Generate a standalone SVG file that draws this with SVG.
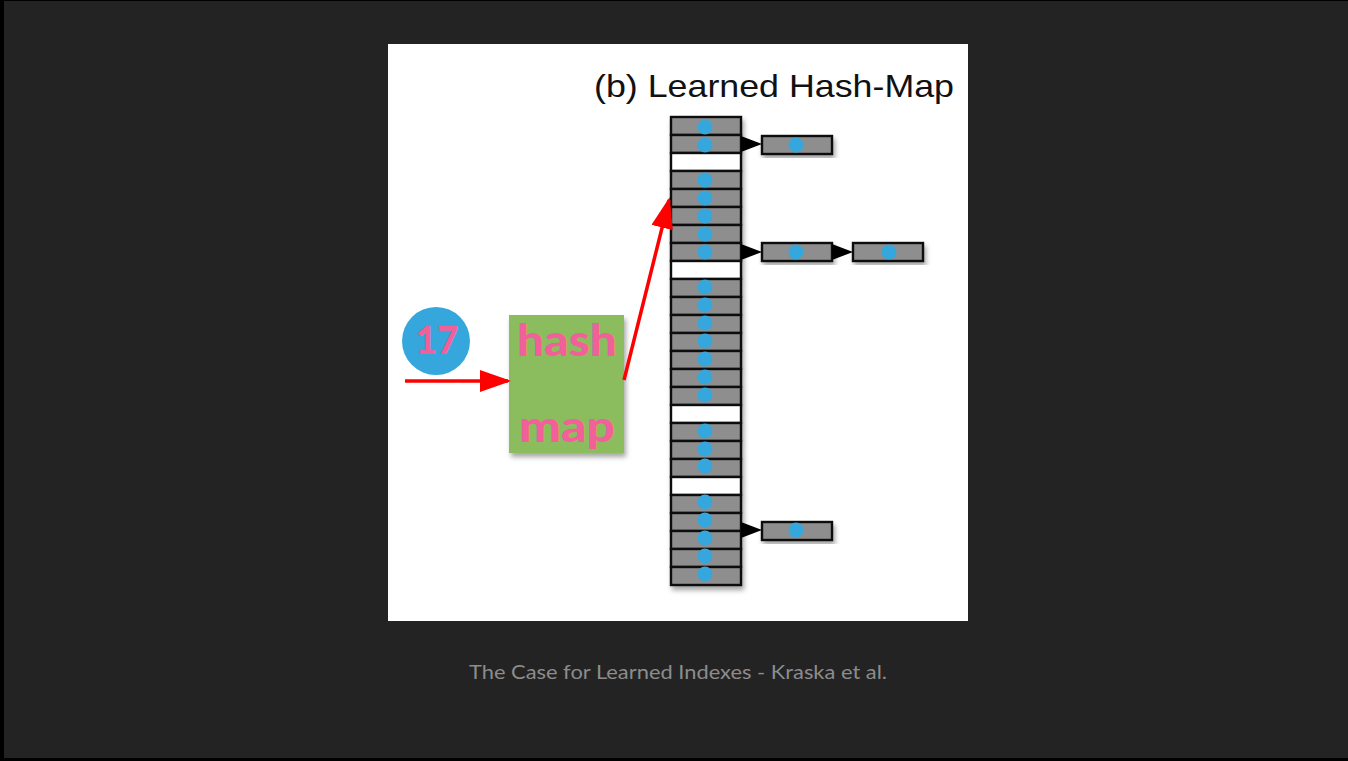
<svg xmlns="http://www.w3.org/2000/svg" width="1348" height="761" viewBox="0 0 1348 761">
  <style>
    .cell { fill: #8e8e8e; stroke: #0d0d0d; stroke-width: 2.4; }
    .empty { fill: #ffffff; stroke: #0d0d0d; stroke-width: 2.4; }
    .dot { fill: #35a7dc; }
    .ptr { fill: #000; }
    .red { stroke: #ff0000; stroke-width: 3.5; fill: none; }
    .title { font-family: "Liberation Sans", Arial, sans-serif; font-size: 32px; fill: #111; }
    .big { font-family: Lato, "Open Sans", sans-serif; font-weight: 900; fill: #f2609a; }
    .caption { font-family: Lato, "Open Sans", sans-serif; font-size: 19px; fill: #8c8c8c; }
  </style>
  <defs>
    <filter id="shadow" x="-20%" y="-20%" width="140%" height="140%">
      <feDropShadow dx="2" dy="4" stdDeviation="2.5" flood-color="#000" flood-opacity="0.35"/>
    </filter>
    <marker id="redHead" viewBox="0 0 10 7" refX="9" refY="3.5" markerWidth="9" markerHeight="6.3" markerUnits="strokeWidth" orient="auto">
      <path d="M0,0 L10,3.5 L0,7 Z" fill="#ff0000"/>
    </marker>
  </defs>

  <!-- slide background -->
  <rect x="0" y="0" width="1348" height="761" fill="#000"/>
  <rect x="4" y="1" width="1344" height="757" fill="#232323"/>

  <!-- figure panel -->
  <rect x="388" y="44" width="580" height="577" fill="#ffffff"/>

  <text class="title" x="594" y="97" textLength="360" lengthAdjust="spacingAndGlyphs">(b) Learned Hash-Map</text>

  <!-- bucket array: 26 slots, 18px each -->
  <g id="bucket-array" filter="url(#shadow)">
    <rect class="cell" x="671" y="117" width="70" height="18"/>
    <rect class="cell" x="671" y="135" width="70" height="18"/>
    <rect class="empty" x="671" y="153" width="70" height="18"/>
    <rect class="cell" x="671" y="171" width="70" height="18"/>
    <rect class="cell" x="671" y="189" width="70" height="18"/>
    <rect class="cell" x="671" y="207" width="70" height="18"/>
    <rect class="cell" x="671" y="225" width="70" height="18"/>
    <rect class="cell" x="671" y="243" width="70" height="18"/>
    <rect class="empty" x="671" y="261" width="70" height="18"/>
    <rect class="cell" x="671" y="279" width="70" height="18"/>
    <rect class="cell" x="671" y="297" width="70" height="18"/>
    <rect class="cell" x="671" y="315" width="70" height="18"/>
    <rect class="cell" x="671" y="333" width="70" height="18"/>
    <rect class="cell" x="671" y="351" width="70" height="18"/>
    <rect class="cell" x="671" y="369" width="70" height="18"/>
    <rect class="cell" x="671" y="387" width="70" height="18"/>
    <rect class="empty" x="671" y="405" width="70" height="18"/>
    <rect class="cell" x="671" y="423" width="70" height="18"/>
    <rect class="cell" x="671" y="441" width="70" height="18"/>
    <rect class="cell" x="671" y="459" width="70" height="18"/>
    <rect class="empty" x="671" y="477" width="70" height="18"/>
    <rect class="cell" x="671" y="495" width="70" height="18"/>
    <rect class="cell" x="671" y="513" width="70" height="18"/>
    <rect class="cell" x="671" y="531" width="70" height="18"/>
    <rect class="cell" x="671" y="549" width="70" height="18"/>
    <rect class="cell" x="671" y="567" width="70" height="18"/>
  </g>
  <g id="bucket-dots">
    <circle class="dot" cx="705" cy="127" r="7.5"/>
    <circle class="dot" cx="705" cy="145" r="7.5"/>
    <circle class="dot" cx="705" cy="180" r="7.5"/>
    <circle class="dot" cx="705" cy="198" r="7.5"/>
    <circle class="dot" cx="705" cy="216" r="7.5"/>
    <circle class="dot" cx="705" cy="234" r="7.5"/>
    <circle class="dot" cx="705" cy="252" r="7.5"/>
    <circle class="dot" cx="705" cy="287" r="7.5"/>
    <circle class="dot" cx="705" cy="305" r="7.5"/>
    <circle class="dot" cx="705" cy="323" r="7.5"/>
    <circle class="dot" cx="705" cy="341" r="7.5"/>
    <circle class="dot" cx="705" cy="359" r="7.5"/>
    <circle class="dot" cx="705" cy="377" r="7.5"/>
    <circle class="dot" cx="705" cy="395" r="7.5"/>
    <circle class="dot" cx="705" cy="431" r="7.5"/>
    <circle class="dot" cx="705" cy="449" r="7.5"/>
    <circle class="dot" cx="705" cy="466" r="7.5"/>
    <circle class="dot" cx="705" cy="502" r="7.5"/>
    <circle class="dot" cx="705" cy="520" r="7.5"/>
    <circle class="dot" cx="705" cy="538" r="7.5"/>
    <circle class="dot" cx="705" cy="556" r="7.5"/>
    <circle class="dot" cx="705" cy="574" r="7.5"/>
  </g>

  <!-- overflow chain entries -->
  <g id="overflow-1">
    <rect class="cell" x="762" y="136" width="70" height="18" filter="url(#shadow)"/>
    <circle class="dot" cx="796" cy="145" r="7.5"/>
  </g>
  <g id="overflow-2a">
    <rect class="cell" x="762" y="243" width="70" height="18" filter="url(#shadow)"/>
    <circle class="dot" cx="796" cy="252" r="7.5"/>
  </g>
  <g id="overflow-2b">
    <rect class="cell" x="853" y="243" width="70" height="18" filter="url(#shadow)"/>
    <circle class="dot" cx="889" cy="252" r="7.5"/>
  </g>
  <g id="overflow-3">
    <rect class="cell" x="762" y="522" width="70" height="18" filter="url(#shadow)"/>
    <circle class="dot" cx="796" cy="530" r="7.5"/>
  </g>

  <!-- key and model -->
  <g id="key-17">
    <circle cx="436" cy="341" r="34" fill="#35a7dc"/>
    <text class="big" x="437" y="354" font-size="37" text-anchor="middle">17</text>
  </g>
  <g id="hash-model">
    <rect x="509" y="315" width="115" height="138" fill="#8bbd5f" filter="url(#shadow)"/>
    <text class="big" x="567" y="356" font-size="44" text-anchor="middle" textLength="100" lengthAdjust="spacingAndGlyphs">hash</text>
    <text class="big" x="567" y="442" font-size="44" text-anchor="middle" textLength="96" lengthAdjust="spacingAndGlyphs">map</text>
  </g>

  <!-- connectors -->
  <g id="connectors">
    <path class="ptr" d="M741,136 L762,144 L741,152 Z"/>
    <path class="ptr" d="M741,244 L762,252 L741,260 Z"/>
    <path class="ptr" d="M832,244 L853,252 L832,260 Z"/>
    <path class="ptr" d="M741,522 L762,530 L741,538 Z"/>
    <line class="red" x1="405" y1="381" x2="508" y2="381" marker-end="url(#redHead)"/>
    <line class="red" x1="624" y1="380" x2="669" y2="200" marker-end="url(#redHead)"/>
  </g>

  <text class="caption" x="678" y="679" text-anchor="middle" textLength="418" lengthAdjust="spacingAndGlyphs">The Case for Learned Indexes - Kraska et al.</text>
</svg>
